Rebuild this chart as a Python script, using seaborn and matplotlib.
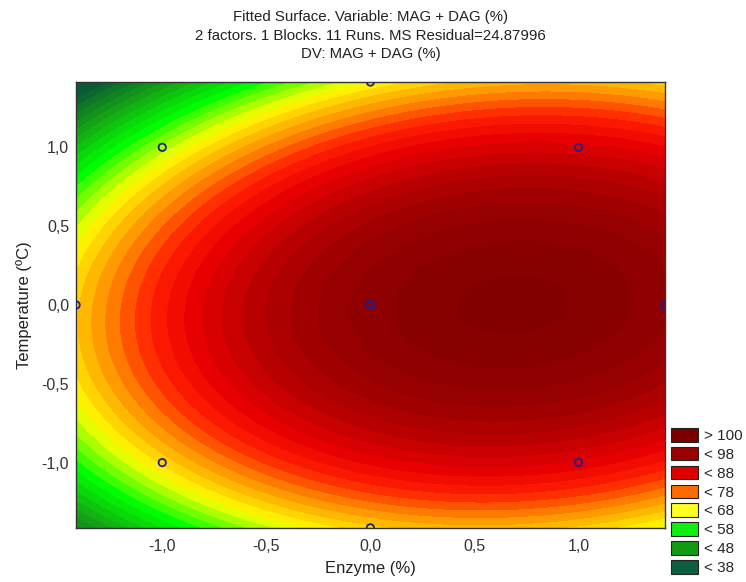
import numpy as np
import pandas as pd
import matplotlib
matplotlib.use("Agg")
import matplotlib.pyplot as plt
import seaborn as sns
from matplotlib.colors import LinearSegmentedColormap
from matplotlib.patches import Patch

# design points (central composite, 11 runs) and response
enzyme = [-1, -1, 1, 1, -1.414, 1.414, 0, 0, 0, 0, 0]
temperature = [-1, 1, -1, 1, 0, 0, -1.414, 1.414, 0, 0, 0]
mag_dag = [61, 55, 83, 84, 70, 92, 66, 63, 95, 95, 95]

legend_labels = ["> 100", "< 98", "< 88", "< 78", "< 68", "< 58", "< 48", "< 38"]
legend_colors = ["#7a0000", "#980000", "#e00000", "#ff6a00", "#ffff20", "#10f010", "#139a13", "#0b5e3e"]

sns.set_style("white")
plt.rcParams["font.family"] = ["Liberation Sans", "DejaVu Sans"]

df = pd.DataFrame({"Enzyme": enzyme, "Temperature": temperature, "y": mag_dag})

# second order model fit (like the Statistica fitted surface)
def terms(a, b):
    a = np.asarray(a, float)
    b = np.asarray(b, float)
    return np.column_stack([np.ones_like(a), a, b, a**2, b**2, a * b])

coef, *_ = np.linalg.lstsq(terms(df["Enzyme"], df["Temperature"]), df["y"], rcond=None)

x1 = np.linspace(-1.414, 1.414, 300)
x2 = np.linspace(-1.414, 1.414, 300)
X1, X2 = np.meshgrid(x1, x2)
Z = (terms(X1.ravel(), X2.ravel()) @ coef).reshape(X1.shape)

vmin, vmax = 28, 100
anchors = [(33, "#0a5a35"), (43, "#15a015"), (53, "#00ff00"), (62, "#ffff00"),
           (70, "#ff8c00"), (76, "#ff2000"), (81, "#e80000"), (87, "#b80000"),
           (93, "#980000"), (98, "#860000")]
cmap = LinearSegmentedColormap.from_list(
    "stat", [(0.0, "#0a5a35")] + [((v - vmin) / (vmax - vmin), c) for v, c in anchors] + [(1.0, "#800000")])

fig = plt.figure(figsize=(7.46, 5.82), dpi=100)
ax = fig.add_axes([0.102, 0.093, 0.789, 0.766])
levels = np.arange(vmin, vmax + 1, 2)
ax.contourf(X1, X2, Z, levels=levels, cmap=cmap, vmin=vmin, vmax=vmax, extend="both")

sns.scatterplot(data=df, x="Enzyme", y="Temperature", ax=ax, s=28,
                facecolor="none", edgecolor="#20208c", linewidth=1.3, zorder=5)

ax.set_xlim(-1.414, 1.414)
ax.set_ylim(-1.414, 1.414)
ticks = [-1.0, -0.5, 0.0, 0.5, 1.0]
ax.set_xticks(ticks)
ax.set_yticks(ticks)
lab = [f"{t:.1f}".replace(".", ",") for t in ticks]
ax.set_xticklabels(lab)
ax.set_yticklabels(lab)
ax.tick_params(direction="in", length=3, top=True, right=True, labelsize=11.5, colors="#333333")
ax.tick_params(axis="x", pad=8)
ax.tick_params(axis="y", pad=5)
for s in ax.spines.values():
    s.set_color("#333333")
    s.set_linewidth(1.0)
ax.set_xlabel("Enzyme (%)", fontsize=12, color="#222222", labelpad=5)
ax.set_ylabel("Temperature (ºC)", fontsize=12, color="#222222", labelpad=7)

ax.set_title("Fitted Surface. Variable: MAG + DAG (%)\n2 factors. 1 Blocks. 11 Runs. MS Residual=24.87996\nDV: MAG + DAG (%)",
             fontsize=10.8, linespacing=1.45, color="#222222", pad=17)

handles = [Patch(facecolor=c, edgecolor="#222222", linewidth=0.8) for c in legend_colors]
fig.legend(handles, legend_labels, loc="lower left", bbox_to_anchor=(0.887, -0.004),
           frameon=False, fontsize=11, handlelength=1.8, handleheight=1.0,
           labelspacing=0.25, handletextpad=0.35, borderaxespad=0.2)

fig.savefig("out.png", dpi=100)
